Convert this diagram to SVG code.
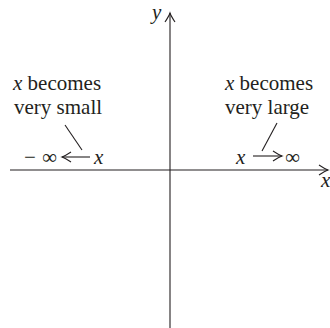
<svg xmlns="http://www.w3.org/2000/svg" width="330" height="328" viewBox="0 0 330 328">
<style>
text{font-family:"Liberation Serif","DejaVu Serif",serif;font-size:21px;fill:#231f20}
.i{font-style:italic}
.ln{stroke:#231f20;stroke-width:1.1;fill:none}
</style>
<defs>
<marker id="ah" markerUnits="userSpaceOnUse" markerWidth="14" markerHeight="14" refX="0" refY="0" viewBox="-11 -7 13 14" orient="auto" overflow="visible">
<path d="M -9 -5 Q -3 -1 0 0 Q -3 1 -9 5" fill="none" stroke="#231f20" stroke-width="1.1"/>
</marker>
</defs>
<g id="connectors">
<line class="ln" x1="10" y1="170" x2="328" y2="170" marker-end="url(#ah)"/>
<line class="ln" x1="170" y1="328" x2="170" y2="13" marker-end="url(#ah)"/>
<line class="ln" x1="90" y1="157" x2="62" y2="157" marker-end="url(#ah)"/>
<line class="ln" x1="253" y1="156" x2="282" y2="156" marker-end="url(#ah)"/>
<line class="ln" x1="65" y1="125" x2="82" y2="150"/>
<line class="ln" x1="277" y1="123" x2="262" y2="151"/>
</g>
<g id="axis-labels">
<text class="i" x="152" y="19">y</text>
<text class="i" x="321" y="187">x</text>
</g>
<g id="left-label">
<text x="13" y="90"><tspan class="i">x</tspan> becomes</text>
<text x="14" y="114">very small</text>
</g>
<g id="right-label">
<text x="225" y="90"><tspan class="i">x</tspan> becomes</text>
<text x="225" y="114">very large</text>
</g>
<g id="left-limit">
<text><tspan x="24" y="164">−</tspan><tspan x="42" y="164">∞</tspan></text>
<text class="i" x="94" y="164">x</text>
</g>
<g id="right-limit">
<text class="i" x="236" y="164">x</text>
<text x="285" y="164">∞</text>
</g>
</svg>
